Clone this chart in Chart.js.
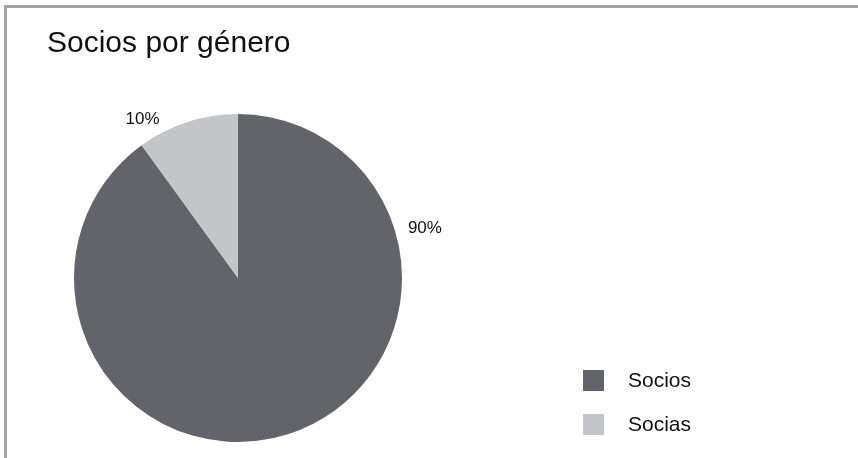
<!DOCTYPE html>
<html lang="es">
<head>
<meta charset="utf-8">
<title>Socios por género</title>
<script src="https://cdn.jsdelivr.net/npm/chart.js@4.4.1/dist/chart.umd.min.js"></script>
<style>
  html, body { margin: 0; padding: 0; background: #fff; }
  #wrap { position: relative; width: 858px; height: 458px; }
</style>
</head>
<body>
<div id="wrap">
  <canvas id="grafico-genero" width="858" height="458"></canvas>
</div>
<script>
// datos del gráfico
const titulo = 'Socios por género';
const categorias = ['Socios', 'Socias'];
const porcentajes = [90, 10];
const colores = ['#636469', '#c4c5c9'];

const fuente = '"Liberation Sans", Arial, Helvetica, sans-serif';

// marco, título, etiquetas de porcentaje y leyenda dibujados a mano
const decoracion = {
  id: 'decoracion',
  beforeDraw(chart) {
    const ctx = chart.ctx;
    ctx.save();
    ctx.fillStyle = '#fff';
    ctx.fillRect(0, 0, chart.width, chart.height);
    ctx.fillStyle = '#a2a2a2';
    ctx.fillRect(4, 5, chart.width - 4, 3);
    ctx.fillRect(4, 5, 3, chart.height - 5);
    ctx.restore();
  },
  afterDraw(chart, args, opts) {
    const ctx = chart.ctx;
    ctx.save();

    // título
    ctx.fillStyle = '#111';
    ctx.font = '30px ' + fuente;
    ctx.textAlign = 'left';
    ctx.textBaseline = 'alphabetic';
    ctx.fillText(titulo, 47, 52);

    // porcentajes alrededor de la torta
    const meta = chart.getDatasetMeta(0);
    ctx.font = '17px ' + fuente;
    ctx.textAlign = 'center';
    ctx.textBaseline = 'middle';
    meta.data.forEach((arc, i) => {
      const ang = opts.angulos[i] * Math.PI / 180;
      const d = arc.outerRadius * opts.distancias[i];
      const x = arc.x + d * Math.sin(ang);
      const y = arc.y - d * Math.cos(ang);
      ctx.fillText(porcentajes[i] + '%', x, y);
    });

    // leyenda
    ctx.font = '21px ' + fuente;
    ctx.textAlign = 'left';
    categorias.forEach((cat, i) => {
      const y = 380 + i * 44;
      ctx.fillStyle = colores[i];
      ctx.fillRect(583, y - 10, 21, 21);
      ctx.fillStyle = '#111';
      ctx.fillText(cat, 628, y + 1);
    });

    ctx.restore();
  }
};

new Chart(document.getElementById('grafico-genero'), {
  type: 'pie',
  data: {
    labels: categorias,
    datasets: [{
      data: porcentajes,
      backgroundColor: colores,
      borderWidth: 0,
    }]
  },
  options: {
    responsive: false,
    animation: false,
    layout: {
      padding: { left: 74, right: 456, top: 114, bottom: 16 }
    },
    plugins: {
      legend: { display: false },
      title: { display: false },
      tooltip: { enabled: false },
      decoracion: {
        angulos: [75, -31],
        distancias: [1.18, 1.13]
      }
    }
  },
  plugins: [decoracion]
});
</script>
</body>
</html>
